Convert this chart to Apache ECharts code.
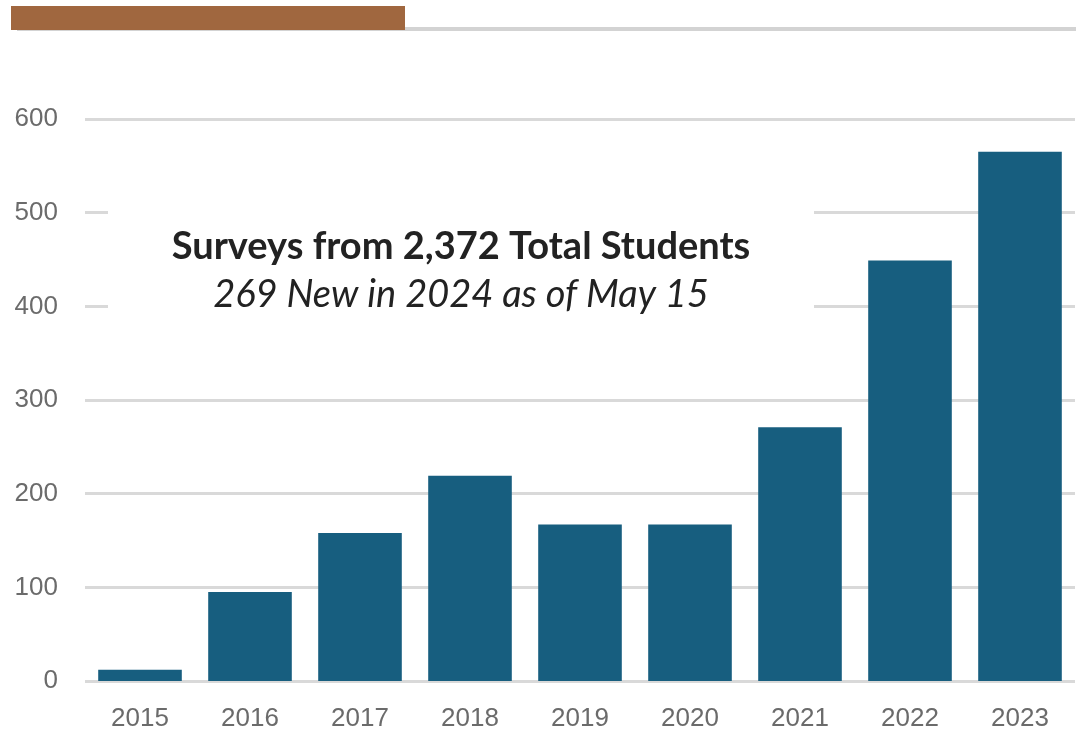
<!DOCTYPE html>
<html><head><meta charset="utf-8">
<script src="https://cdn.jsdelivr.net/npm/echarts@6/dist/echarts.min.js"></script>
<style>html,body{margin:0;padding:0;background:#fff}#c{width:1076px;height:742px}</style>
</head><body><div id="c"></div>
<script>
const years = ['2015','2016','2017','2018','2019','2020','2021','2022','2023'];
const surveys = [12, 95, 158, 219, 167, 167, 271, 449, 565];
const yTicks = [0, 100, 200, 300, 400, 500, 600];
const titleText = 'Surveys from 2,372 Total Students';
const subText = '269 New in 2024 as of May 15';

const chart = echarts.init(document.getElementById('c'), null, {renderer:'canvas'});
chart.setOption({
  animation: false,
  backgroundColor: '#fff',
  grid: {left: 85, right: 1, top: 119, bottom: 61},
  xAxis: {
    type: 'category', data: years,
    axisLine: {show: false}, axisTick: {show: false},
    axisLabel: {color: '#6b6b6b', fontFamily: 'Liberation Sans', fontSize: 26, margin: 25}
  },
  yAxis: {
    type: 'value', min: yTicks[0], max: yTicks[yTicks.length-1], interval: 100,
    axisLine: {show: false}, axisTick: {show: false},
    axisLabel: {color: '#6b6b6b', fontFamily: 'Liberation Sans', fontSize: 26, margin: 27},
    splitLine: {lineStyle: {color: '#d9d9d9', width: 3}}
  },
  series: [{
    type: 'bar', data: surveys, barWidth: '76%',
    itemStyle: {color: '#175E7F'}
  }],
  graphic: [
    {type: 'rect', left: 11, top: 6, shape: {width: 394, height: 24}, style: {fill: '#A0673F'}, z: 10},
    {type: 'rect', left: 17, top: 27, shape: {width: 1059, height: 4}, style: {fill: '#d3d3d3'}, z: 9},
    {type: 'rect', left: 108, top: 190, shape: {width: 706, height: 140}, style: {fill: '#fff'}, z: 5},
    {type: 'text', x: 461, y: 247, z: 20, style: {text: titleText, fill: '#222', font: 'bold 38px Lato', textAlign: 'center', textVerticalAlign: 'middle'}},
    {type: 'text', x: 461, y: 295, z: 20, style: {text: subText, fill: '#222', font: 'italic 38px Lato', textAlign: 'center', textVerticalAlign: 'middle'}}
  ]
});
</script></body></html>
